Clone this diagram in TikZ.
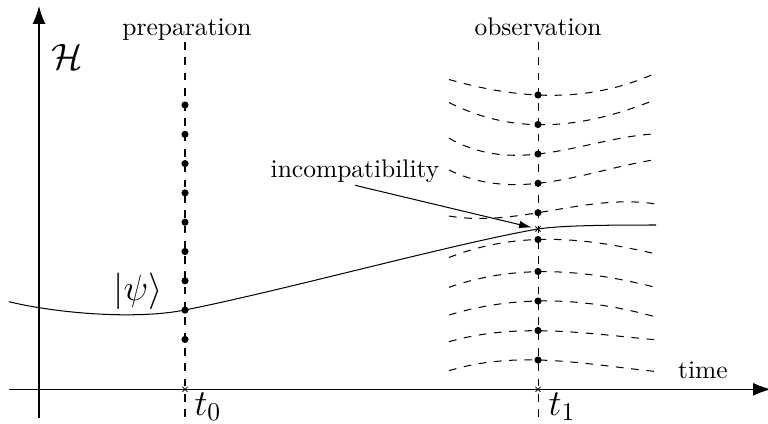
\documentclass[tikz,border=0pt]{standalone}
\usetikzlibrary{arrows.meta}
\newcommand{\levelcurve}[4]{% #1=y left, #2=y at t1, #3=y at x=600, #4=y right
  \draw[level] plot[domain=449:656, samples=60, variable=\xx]
   (\xx, {#2
     + (#1-#2)*((\xx-538)/100)*((\xx-538)/100-0.62)*((\xx-538)/100-1.18)/(-2.7819)
     + (#3-#2)*((\xx-538)/100)*((\xx-538)/100+0.89)*((\xx-538)/100-1.18)/(-0.52427)
     + (#4-#2)*((\xx-538)/100)*((\xx-538)/100+0.89)*((\xx-538)/100-0.62)/1.36786});
}
\begin{document}
\begin{tikzpicture}[x=0.3922pt,y=-0.3922pt,
  axis/.style={-{Latex[length=7pt,width=5pt]}},
  pointer/.style={-{Latex[length=5pt,width=3pt]},shorten >=2.5pt},
  level/.style={dashed},
  statedot/.style={fill=black},
  mathlbl/.style={font=\Large}]
\useasboundingbox (0,0) rectangle (768,423);
% axes
\coordinate (xs) at (9,389.3);
\coordinate (xe) at (771,389.3);
\coordinate (ys) at (39,418);
\coordinate (ye) at (39,6);
\draw[axis] (xs) -- (xe);
\draw[axis] (ys) -- (ye);
% labels
\node[anchor=base] (prep) at (187,35) {preparation};
\node[anchor=base] (obs) at (538,35) {observation};
\node[anchor=base] (time) at (703,378) {time};
\node[mathlbl] (H) at (67.5,56.5) {$\mathcal{H}$};
\node[mathlbl] (psi) at (138,291) {$|\psi\rangle$};
\node[mathlbl,anchor=base west,inner sep=0pt] (t0) at (194,415) {$t_0$};
\node[mathlbl,anchor=base west,inner sep=0pt] (t1) at (548,415) {$t_1$};
\node[anchor=base,inner sep=1pt] (inc) at (355,177) {incompatibility};
% vertical dashed lines
\coordinate (p0a) at (185,42); \coordinate (p0b) at (185,423);
\coordinate (p1a) at (538,42); \coordinate (p1b) at (538,423);
\draw[dashed] (p0a) -- (p0b);
\draw[dashed] (p1a) -- (p1b);
% dashed level curves near t1
\levelcurve{79.5}{95}{90.8}{73}
\levelcurve{102.5}{124.7}{117.6}{99.4}
\levelcurve{138.2}{154}{142.4}{133.8}
\levelcurve{170}{183.3}{171.4}{159.5}
\levelcurve{216}{212.7}{203.3}{204}
\levelcurve{257.5}{239.5}{243.2}{254}
\levelcurve{287.3}{271.7}{276}{287.5}
\levelcurve{315}{301}{305}{317}
\levelcurve{341.7}{330.7}{334.3}{339.8}
\levelcurve{370.7}{360}{365}{371.5}
% state curve
\coordinate (c00) at (9,301.7);
\coordinate (c0) at (185,310);
\coordinate (c1) at (538,229);
\coordinate (c2) at (656,225);
\draw (c00) .. controls (55,313) and (135,320) .. (c0)
            .. controls (285,290) and (458,242.6) .. (c1)
            .. controls (562,225.3) and (610,225) .. (c2);
% dots
\foreach \yy in {105,134.3,163.6,192.9,222.2,251.5,280.8,310.1,339.4}
  \fill[statedot] (185,\yy) circle (1.4pt);
\foreach \yy in {95,124.5,154,183.3,212.7,239.5,271.5,301,330.5,360}
  \fill[statedot] (538,\yy) circle (1.4pt);
% crosses
\coordinate (x0) at (185,389.3);
\coordinate (x1) at (538,389.3);
\foreach \cc in {x0,x1,c1}{
  \draw[line width=0.3pt] (\cc) ++(-1pt,-1pt) -- ++(2pt,2pt);
  \draw[line width=0.3pt] (\cc) ++(-1pt,1pt) -- ++(2pt,-2pt);
}
% pointer
\draw[pointer] (inc.south) -- (c1);
\end{tikzpicture}
\end{document}
